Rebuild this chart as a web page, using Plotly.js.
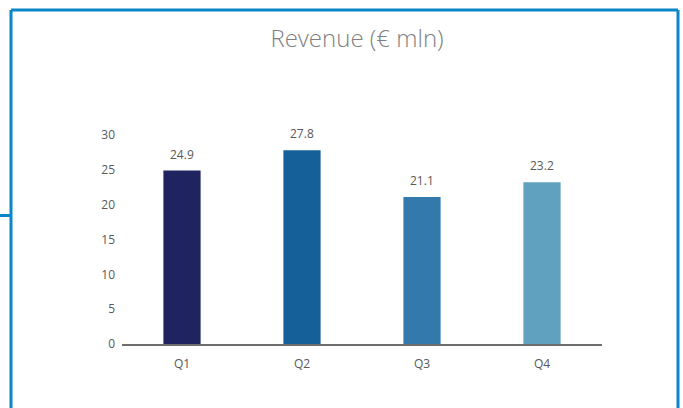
<!DOCTYPE html>
<html>
<head>
<meta charset="utf-8">
<script src="https://cdn.plot.ly/plotly-3.0.1.min.js"></script>
<style>
  html, body { margin:0; padding:0; background:#ffffff; }
  #chart { width:683px; height:408px; }
</style>
</head>
<body>
<div id="chart"></div>
<script>

/* ==========================================
   DATA
========================================== */

const quarters = ["Q1","Q2","Q3","Q4"];

const revenue = [24.9, 27.8, 21.1, 23.2];

const barColors = ["#1f2460","#156099","#3479ab","#5fa1be"];

const yTicks = [0,5,10,15,20,25,30];


/* ==========================================
   FRAME (blue border around the slide box)
========================================== */

const frameColor = "#0b86c9";

function frameShapes(){

    // plot area is 480px wide (122..602) and 209px high (135..344)
    const px = v=>(v-122)/480;
    const py = v=>(344-v)/209;

    const line = {type:"line", xref:"paper", yref:"paper", line:{color:frameColor, width:3}};

    return [
        Object.assign({}, line, {x0:px(11),  x1:px(11),  y0:py(10), y1:py(420)}),
        Object.assign({}, line, {x0:px(11),  x1:px(678), y0:py(10), y1:py(10)}),
        Object.assign({}, line, {x0:px(678), x1:px(678), y0:py(10), y1:py(420)}),
        Object.assign({}, line, {x0:px(-2),  x1:px(11),  y0:py(215.5), y1:py(215.5)})
    ];

}


/* ==========================================
   DRAW
========================================== */

const textFont = "'Open Sans', Lato, sans-serif";

function drawRevenue(){

    Plotly.newPlot(

        "chart",

        [
            {
                type:"bar",
                x:quarters,
                y:revenue,
                width:0.31,
                marker:{ color:barColors },
                hoverinfo:"skip"
            }
        ],

        {
            width:683,
            height:408,
            paper_bgcolor:"#ffffff",
            plot_bgcolor:"#ffffff",
            showlegend:false,
            margin:{ l:122, r:81, t:135, b:64 },
            font:{ family:textFont, color:"#595959", size:12 },
            title:{
                text:"Revenue (€ mln)",
                font:{ family:textFont, size:24, color:"#7f7f7f", weight:300 },
                x:357/683,
                xanchor:"center",
                xref:"container",
                y:1-39/408,
                yanchor:"middle",
                yref:"container"
            },
            xaxis:{
                showline:true,
                linecolor:"#6d6d6d",
                linewidth:2,
                showgrid:false,
                zeroline:false,
                ticks:"",
                ticklabelstandoff:8,
                tickfont:{ size:12, color:"#595959" }
            },
            yaxis:{
                range:[0,30],
                tickvals:yTicks,
                showgrid:false,
                zeroline:false,
                showline:false,
                ticks:"",
                ticklabelstandoff:6,
                tickfont:{ size:12, color:"#595959" }
            },
            annotations:quarters.map((q,i)=>({
                x:q,
                y:revenue[i],
                text:revenue[i].toFixed(1),
                showarrow:false,
                yanchor:"bottom",
                yshift:6,
                font:{ size:12, color:"#595959" }
            })),
            shapes:frameShapes()
        },

        {
            displayModeBar:false,
            staticPlot:true
        }

    );

}

drawRevenue();

</script>
</body>
</html>
